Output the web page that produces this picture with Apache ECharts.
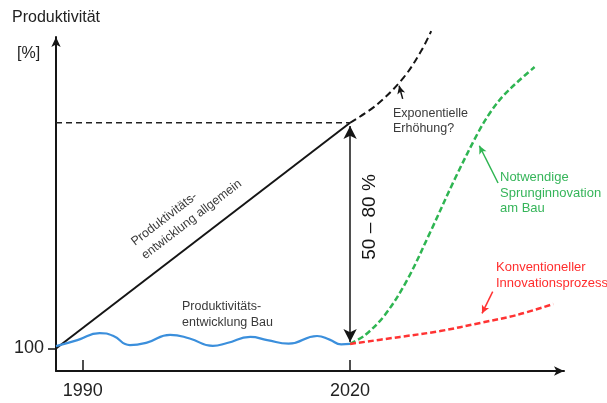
<!DOCTYPE html>
<html>
<head>
<meta charset="utf-8">
<style>
  html, body { margin: 0; padding: 0; background: #fff; }
  #chart { width: 607px; height: 403px; }
</style>
<script src="https://cdn.jsdelivr.net/npm/echarts@6/dist/echarts.min.js"></script>
</head>
<body>
<div id="chart"></div>
<script>
// Axis ticks
const xTickYears = [1990, 2020];
const yTickValues = [100];

// General productivity growth (straight line) and its reference level
const generalYears = [1987, 2020];
const generalValues = [100, 200];
const levelYears = [1987, 2020];
const levelValues = [200, 200];

// Possible exponential continuation
const expYears = [2020, 2023, 2026, 2028, 2029.1];
const expValues = [200, 208, 220, 232, 240.6];

// Construction productivity (flat, wavy)
const bauYears = [1987, 1989.4, 1991.9, 1993.4, 1995.3, 1997.2, 1999.8, 2002.0, 2004.6,
                  2006.2, 2008.8, 2010.7, 2013.1, 2016.3, 2017.7, 2019.0, 2020];
const bauValues = [101, 103.7, 106.8, 105.6, 101.5, 102.6, 106.0, 104.4, 101.1,
                   102.4, 105.1, 103.7, 102.1, 105.5, 103.9, 101.8, 102];

// Required leap innovation (S-curve)
const leapYears = [2020, 2021.7, 2023.9, 2026.4, 2029.0, 2031.8, 2034.4, 2035.8, 2037.2, 2038.9, 2040.7];
const leapValues = [102, 106.0, 114.8, 130.3, 151.6, 175.5, 195.9, 205.0, 212.0, 218.5, 224.7];

// Conventional innovation process
const convYears = [2020, 2025.6, 2030.1, 2034.6, 2038.7, 2042.8];
const convValues = [102, 105.1, 107.7, 111.3, 114.8, 119.7];

// Range arrow between the two curves at 2020
const rangeYear = 2020;
const rangeFrom = 102.8;
const rangeTo = 198.6;

const zip = (xs, ys) => xs.map((x, i) => [x, ys[i]]);

const FONT = "'Liberation Sans', Arial, Helvetica, sans-serif";
const INK = '#151515';
const GREY = '#3a3a3a';
const BLUE = '#3b8fdc';
const GREEN = '#2fb552';
const RED = '#ff3333';

const chart = echarts.init(document.getElementById('chart'), null, { renderer: 'canvas' });

const noLabel = { show: false };
const arrowLine = (from, to, color, size) => ({
  silent: true,
  animation: false,
  symbol: ['none', 'arrow'],
  symbolSize: size,
  label: noLabel,
  lineStyle: { color: color, width: 1.5, type: 'solid' },
  emphasis: { disabled: true },
  data: [[{ coord: from }, { coord: to }]]
});

chart.setOption({
  animation: false,
  textStyle: { fontFamily: FONT },
  grid: { left: 56, top: 37, width: 508, height: 334, containLabel: false },
  xAxis: {
    type: 'value',
    min: 1987,
    max: 2044,
    axisLine: {
      show: true,
      symbol: ['none', 'arrow'],
      symbolSize: [7, 10],
      lineStyle: { color: INK, width: 2 }
    },
    axisTick: {
      show: true, inside: true, length: 11,
      customValues: xTickYears,
      lineStyle: { color: INK, width: 1.5 }
    },
    axisLabel: {
      show: true, customValues: xTickYears, margin: 11,
      fontSize: 18, color: '#222', fontFamily: FONT,
      formatter: v => String(v)
    },
    splitLine: { show: false }
  },
  yAxis: {
    type: 'value',
    min: 90,
    max: 238,
    name: 'Produktivität',
    nameLocation: 'end',
    nameGap: 11,
    nameTextStyle: { fontSize: 16, color: '#222', fontFamily: FONT },
    axisLine: {
      show: true,
      symbol: ['none', 'arrow'],
      symbolSize: [7, 10],
      lineStyle: { color: INK, width: 2 }
    },
    axisTick: {
      show: true, length: 8,
      customValues: yTickValues,
      lineStyle: { color: INK, width: 1.5 }
    },
    axisLabel: {
      show: true, customValues: yTickValues, margin: 12,
      fontSize: 18, color: '#222', fontFamily: FONT,
      formatter: v => String(v)
    },
    splitLine: { show: false }
  },
  series: [
    {
      name: 'Produktivitätsentwicklung allgemein',
      type: 'line',
      data: zip(generalYears, generalValues),
      showSymbol: false,
      lineStyle: { color: INK, width: 2 },
      markLine: {
        silent: true,
        animation: false,
        symbol: ['arrow', 'arrow'],
        symbolSize: [10, 13],
        label: noLabel,
        lineStyle: { color: INK, width: 1.5, type: 'solid' },
        emphasis: { disabled: true },
        data: [[{ coord: [rangeYear, rangeFrom] }, { coord: [rangeYear, rangeTo] }]]
      }
    },
    {
      name: 'Niveau',
      type: 'line',
      data: zip(levelYears, levelValues),
      showSymbol: false,
      lineStyle: { color: '#222', width: 1.5, type: [6, 4] }
    },
    {
      name: 'Exponentielle Erhöhung',
      type: 'line',
      data: zip(expYears, expValues),
      showSymbol: false,
      smooth: 0.35,
      clip: false,
      lineStyle: { color: INK, width: 2, type: [7, 4] },
      markLine: arrowLine([2025.9, 210.6], [2025.5, 216.4], INK, [6, 8])
    },
    {
      name: 'Produktivitätsentwicklung Bau',
      type: 'line',
      data: zip(bauYears, bauValues),
      showSymbol: false,
      smooth: 0.5,
      lineStyle: { color: BLUE, width: 2.2 }
    },
    {
      name: 'Notwendige Sprunginnovation am Bau',
      type: 'line',
      data: zip(leapYears, leapValues),
      showSymbol: false,
      smooth: 0.35,
      lineStyle: { color: GREEN, width: 2.5, type: [6, 3] },
      markLine: arrowLine([2036.6, 173.3], [2034.5, 189.8], GREEN, [6, 8])
    },
    {
      name: 'Konventioneller Innovationsprozess',
      type: 'line',
      data: zip(convYears, convValues),
      showSymbol: false,
      smooth: 0.35,
      lineStyle: { color: RED, width: 2.5, type: [6, 3] },
      markLine: arrowLine([2036.0, 125.2], [2034.8, 115.5], RED, [6, 8])
    }
  ],
  graphic: [
    {
      type: 'text', x: 17, y: 54,
      style: { text: '[%]', font: '16px ' + FONT, fill: '#222', textVerticalAlign: 'middle' }
    },
    {
      type: 'text', x: 370, y: 217, rotation: Math.PI / 2,
      style: { text: '50 – 80 %', font: '19px ' + FONT, fill: INK, textAlign: 'center', textVerticalAlign: 'middle' }
    },
    {
      type: 'text', x: 138, y: 250, rotation: 0.655,
      style: {
        text: 'Produktivitäts-\nentwicklung allgemein', font: '12.5px ' + FONT, fill: GREY,
        lineHeight: 17, textAlign: 'left', textVerticalAlign: 'middle'
      }
    },
    {
      type: 'text', x: 182, y: 299,
      style: {
        text: 'Produktivitäts-\nentwicklung Bau', font: '12.5px ' + FONT, fill: GREY,
        lineHeight: 16, textAlign: 'left', textVerticalAlign: 'top'
      }
    },
    {
      type: 'text', x: 393, y: 106,
      style: {
        text: 'Exponentielle\nErhöhung?', font: '12.5px ' + FONT, fill: GREY,
        lineHeight: 15, textAlign: 'left', textVerticalAlign: 'top'
      }
    },
    {
      type: 'text', x: 500, y: 170,
      style: {
        text: 'Notwendige\nSprunginnovation\nam Bau', font: '13px ' + FONT, fill: '#36b55a',
        lineHeight: 15.5, textAlign: 'left', textVerticalAlign: 'top'
      }
    },
    {
      type: 'text', x: 496, y: 259,
      style: {
        text: 'Konventioneller\nInnovationsprozess', font: '13px ' + FONT, fill: '#ff2d2d',
        lineHeight: 16, textAlign: 'left', textVerticalAlign: 'top'
      }
    }
  ]
});
</script>
</body>
</html>
